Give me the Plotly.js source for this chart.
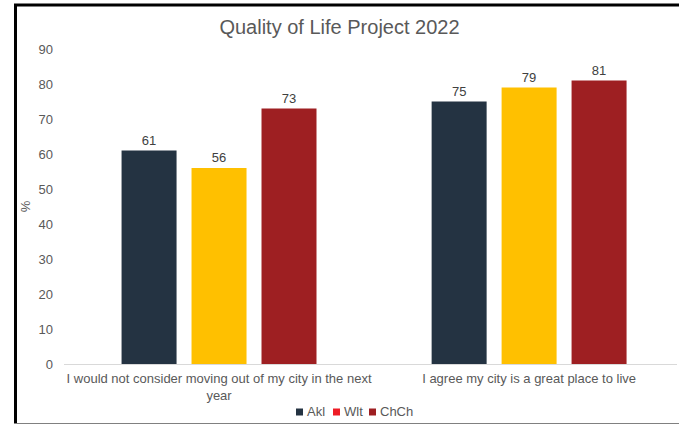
<!DOCTYPE html>
<html>
<head>
<meta charset="utf-8">
<script src="https://cdn.plot.ly/plotly-3.0.1.min.js"></script>
<style>html,body{margin:0;padding:0;background:#fff;}#chart{width:679px;height:426px;}</style>
</head>
<body>
<div id="chart"></div>
<script>
const categories = ["I would not consider moving out of my city in the next<br>year", "I agree my city is a great place to live"];
const akl = [61, 75];
const wlt = [56, 79];
const chch = [73, 81];
const seriesNames = ["Akl", "Wlt", "ChCh"];
const barColors = ["#243342", "#FFC000", "#9E1F22"];
const legendColors = ["#243342", "#EE1C25", "#9E1F22"];

const W = 679, H = 426;
const L = 64, R = 2, T = 49, B = 62;
const pw = W - L - R, ph = H - T - B;
const px = x => (x - L) / pw;
const py = y => (H - B - y) / ph;

const labelFont = {family: "Liberation Sans, Arial, sans-serif", size: 13, color: "#404040"};
function barTrace(name, y, color) {
  return {
    type: "bar", name: name, x: categories, y: y,
    marker: {color: color},
    text: y.map(String), textposition: "outside", textfont: labelFont,
    cliponaxis: false, showlegend: false, hoverinfo: "skip"
  };
}
const data = [
  barTrace(seriesNames[0], akl, barColors[0]),
  barTrace(seriesNames[1], wlt, barColors[1]),
  barTrace(seriesNames[2], chch, barColors[2])
];

// custom compact legend (squares + text)
const legendX = [296, 333, 369];
const legendY = 412;
const shapes = [
  {type: "line", xref: "paper", yref: "paper", x0: px(15.5), x1: px(15.5), y0: py(4), y1: py(424), line: {color: "#000", width: 3}},
  {type: "line", xref: "paper", yref: "paper", x0: px(14), x1: px(679), y0: py(5), y1: py(5), line: {color: "#000", width: 3}},
  {type: "line", xref: "paper", yref: "paper", x0: px(14), x1: px(679), y0: py(423.5), y1: py(423.5), line: {color: "#808080", width: 1}}
];
const annotations = [];
seriesNames.forEach((n, i) => {
  const x = legendX[i];
  shapes.push({type: "rect", xref: "paper", yref: "paper", x0: px(x), x1: px(x + 7), y0: py(legendY - 3.5), y1: py(legendY + 3.5), fillcolor: legendColors[i], line: {width: 0}});
  annotations.push({xref: "paper", yref: "paper", x: px(x + 9), y: py(legendY), xanchor: "left", yanchor: "middle", text: n, showarrow: false, font: {family: "Liberation Sans, Arial, sans-serif", size: 13, color: "#595959"}});
});

const layout = {
  width: W, height: H,
  margin: {l: L, r: R, t: T, b: B},
  paper_bgcolor: "#fff", plot_bgcolor: "#fff",
  font: {family: "Liberation Sans, Arial, sans-serif", color: "#595959"},
  title: {text: "Quality of Life Project 2022", font: {size: 20, color: "#595959"}, x: 0.5, xanchor: "center", y: 1 - 27 / H, yanchor: "middle"},
  barmode: "group", bargap: 0.323, bargroupgap: 0.214,
  showlegend: false,
  xaxis: {
    type: "category", range: [-0.5, 1.477], showgrid: false, zeroline: false,
    showline: true, linecolor: "#D9D9D9", linewidth: 1,
    ticks: "", ticklabelstandoff: 2,
    tickfont: {family: "Liberation Sans, Arial, sans-serif", size: 13, color: "#595959"}, automargin: false
  },
  yaxis: {
    range: [0, 90], dtick: 10, showgrid: false, zeroline: false, showline: false,
    ticks: "", ticklabelstandoff: 10,
    tickfont: {size: 13, color: "#595959"}, automargin: false,
    title: {text: "%", font: {size: 13, color: "#595959"}, standoff: 4}
  },
  shapes: shapes,
  annotations: annotations
};
Plotly.newPlot("chart", data, layout, {displayModeBar: false, staticPlot: true});
</script>
</body>
</html>
